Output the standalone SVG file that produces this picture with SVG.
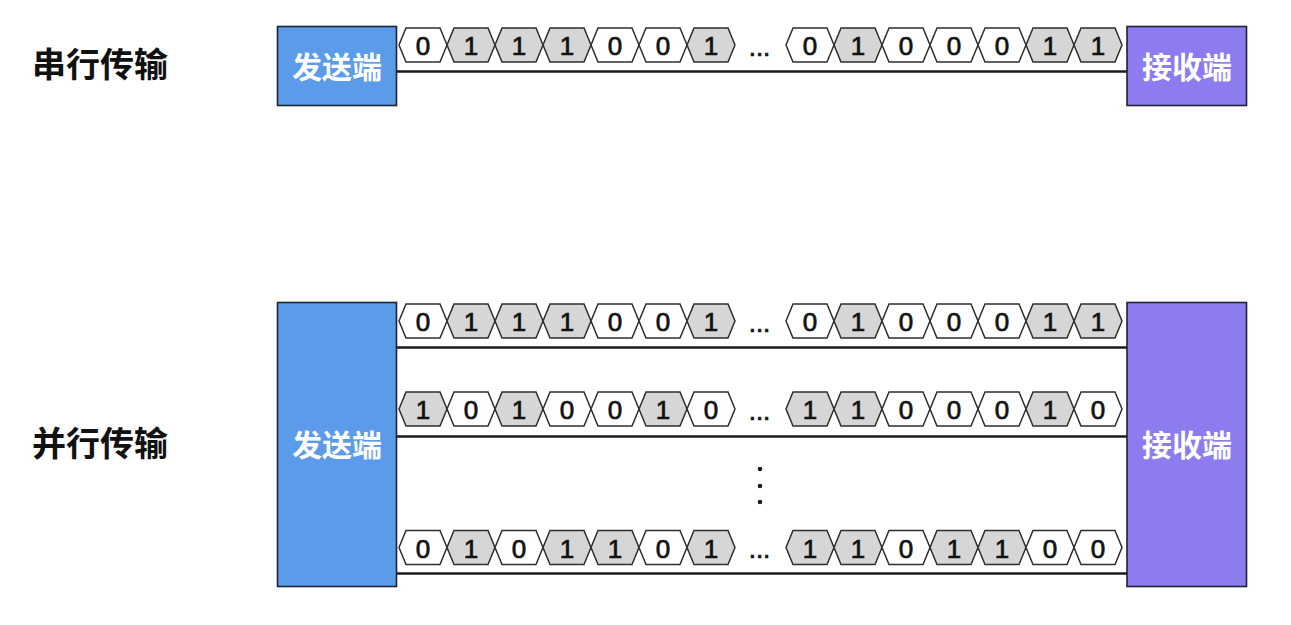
<svg xmlns="http://www.w3.org/2000/svg" xmlns:xlink="http://www.w3.org/1999/xlink" width="1291" height="625" viewBox="0 0 1291 625">
<style>
.lbl{font-family:"Noto Sans CJK SC","Noto Sans",sans-serif;font-weight:700;font-size:34px;fill:#111}
.bt{font-family:"Noto Sans CJK SC","Noto Sans",sans-serif;font-weight:700;font-size:30px;fill:#fff;text-anchor:middle}
.snd{fill:#5B9BE9;stroke:#1c2333;stroke-width:1.6}
.rcv{fill:#8C7CF0;stroke:#1c2333;stroke-width:1.6}
.wire{stroke:#1a1a1a;stroke-width:2.6;fill:none}
.d{font-family:"Liberation Sans",Arial,sans-serif;font-size:26px;fill:#111;stroke:#111;stroke-width:0.7;text-anchor:middle}
.h0{fill:#ffffff;stroke:#2e2e2e;stroke-width:1.5;stroke-linejoin:miter}
.h1{fill:#d6d6d6;stroke:#2e2e2e;stroke-width:1.5;stroke-linejoin:miter}
</style>
<defs>
<polygon id="b0" class="h0" points="-24,0 -17,-17 17,-17 24,0 17,17 -17,17"/>
<polygon id="b1" class="h1" points="-24,0 -17,-17 17,-17 24,0 17,17 -17,17"/>
</defs>
<rect width="1291" height="625" fill="#ffffff"/>

<g id="label-serial"><text class="lbl" x="32" y="77">串行传输</text></g>
<g id="label-parallel"><text class="lbl" x="32" y="456">并行传输</text></g>

<g id="connectors">
<line class="wire" x1="397" y1="71.5" x2="1127" y2="71.5"/>
<line class="wire" x1="397" y1="347.5" x2="1127" y2="347.5"/>
<line class="wire" x1="397" y1="436.5" x2="1127" y2="436.5"/>
<line class="wire" x1="397" y1="573.5" x2="1127" y2="573.5"/>
</g>

<g id="sender-serial"><rect class="snd" x="277.5" y="26.5" width="119" height="79"/><text class="bt" x="337" y="77.5">发送端</text></g>
<g id="receiver-serial"><rect class="rcv" x="1127" y="26.5" width="119.5" height="79"/><text class="bt" x="1187" y="77.5">接收端</text></g>
<g id="sender-parallel"><rect class="snd" x="277.5" y="302.5" width="119" height="284"/><text class="bt" x="337" y="455.5">发送端</text></g>
<g id="receiver-parallel"><rect class="rcv" x="1127" y="302.5" width="119.5" height="284"/><text class="bt" x="1187" y="455.5">接收端</text></g>

<g id="bits-serial">
<use href="#b0" x="423" y="45"/><use href="#b1" x="471" y="45"/><use href="#b1" x="519" y="45"/><use href="#b1" x="567" y="45"/><use href="#b0" x="615" y="45"/><use href="#b0" x="663" y="45"/><use href="#b1" x="711" y="45"/>
<use href="#b0" x="810" y="45"/><use href="#b1" x="858" y="45"/><use href="#b0" x="906" y="45"/><use href="#b0" x="954" y="45"/><use href="#b0" x="1002" y="45"/><use href="#b1" x="1050" y="45"/><use href="#b1" x="1098" y="45"/>
<text class="d" x="423" y="55">0</text><text class="d" x="471" y="55">1</text><text class="d" x="519" y="55">1</text><text class="d" x="567" y="55">1</text><text class="d" x="615" y="55">0</text><text class="d" x="663" y="55">0</text><text class="d" x="711" y="55">1</text>
<text class="d" x="759.5" y="55.5">...</text>
<text class="d" x="810" y="55">0</text><text class="d" x="858" y="55">1</text><text class="d" x="906" y="55">0</text><text class="d" x="954" y="55">0</text><text class="d" x="1002" y="55">0</text><text class="d" x="1050" y="55">1</text><text class="d" x="1098" y="55">1</text>
</g>

<g id="bits-parallel-1">
<use href="#b0" x="423" y="321"/><use href="#b1" x="471" y="321"/><use href="#b1" x="519" y="321"/><use href="#b1" x="567" y="321"/><use href="#b0" x="615" y="321"/><use href="#b0" x="663" y="321"/><use href="#b1" x="711" y="321"/>
<use href="#b0" x="810" y="321"/><use href="#b1" x="858" y="321"/><use href="#b0" x="906" y="321"/><use href="#b0" x="954" y="321"/><use href="#b0" x="1002" y="321"/><use href="#b1" x="1050" y="321"/><use href="#b1" x="1098" y="321"/>
<text class="d" x="423" y="331">0</text><text class="d" x="471" y="331">1</text><text class="d" x="519" y="331">1</text><text class="d" x="567" y="331">1</text><text class="d" x="615" y="331">0</text><text class="d" x="663" y="331">0</text><text class="d" x="711" y="331">1</text>
<text class="d" x="759.5" y="331.5">...</text>
<text class="d" x="810" y="331">0</text><text class="d" x="858" y="331">1</text><text class="d" x="906" y="331">0</text><text class="d" x="954" y="331">0</text><text class="d" x="1002" y="331">0</text><text class="d" x="1050" y="331">1</text><text class="d" x="1098" y="331">1</text>
</g>

<g id="bits-parallel-2">
<use href="#b1" x="423" y="409"/><use href="#b0" x="471" y="409"/><use href="#b1" x="519" y="409"/><use href="#b0" x="567" y="409"/><use href="#b0" x="615" y="409"/><use href="#b1" x="663" y="409"/><use href="#b0" x="711" y="409"/>
<use href="#b1" x="810" y="409"/><use href="#b1" x="858" y="409"/><use href="#b0" x="906" y="409"/><use href="#b0" x="954" y="409"/><use href="#b0" x="1002" y="409"/><use href="#b1" x="1050" y="409"/><use href="#b0" x="1098" y="409"/>
<text class="d" x="423" y="419">1</text><text class="d" x="471" y="419">0</text><text class="d" x="519" y="419">1</text><text class="d" x="567" y="419">0</text><text class="d" x="615" y="419">0</text><text class="d" x="663" y="419">1</text><text class="d" x="711" y="419">0</text>
<text class="d" x="759.5" y="419.5">...</text>
<text class="d" x="810" y="419">1</text><text class="d" x="858" y="419">1</text><text class="d" x="906" y="419">0</text><text class="d" x="954" y="419">0</text><text class="d" x="1002" y="419">0</text><text class="d" x="1050" y="419">1</text><text class="d" x="1098" y="419">0</text>
</g>

<g id="vdots" fill="#1a1a1a">
<circle cx="760" cy="469" r="2.3"/><circle cx="760" cy="486" r="2.3"/><circle cx="760" cy="502" r="2.3"/>
</g>

<g id="bits-parallel-3">
<use href="#b0" x="423" y="547.5"/><use href="#b1" x="471" y="547.5"/><use href="#b0" x="519" y="547.5"/><use href="#b1" x="567" y="547.5"/><use href="#b1" x="615" y="547.5"/><use href="#b0" x="663" y="547.5"/><use href="#b1" x="711" y="547.5"/>
<use href="#b1" x="810" y="547.5"/><use href="#b1" x="858" y="547.5"/><use href="#b0" x="906" y="547.5"/><use href="#b1" x="954" y="547.5"/><use href="#b1" x="1002" y="547.5"/><use href="#b0" x="1050" y="547.5"/><use href="#b0" x="1098" y="547.5"/>
<text class="d" x="423" y="557.5">0</text><text class="d" x="471" y="557.5">1</text><text class="d" x="519" y="557.5">0</text><text class="d" x="567" y="557.5">1</text><text class="d" x="615" y="557.5">1</text><text class="d" x="663" y="557.5">0</text><text class="d" x="711" y="557.5">1</text>
<text class="d" x="759.5" y="558">...</text>
<text class="d" x="810" y="557.5">1</text><text class="d" x="858" y="557.5">1</text><text class="d" x="906" y="557.5">0</text><text class="d" x="954" y="557.5">1</text><text class="d" x="1002" y="557.5">1</text><text class="d" x="1050" y="557.5">0</text><text class="d" x="1098" y="557.5">0</text>
</g>
</svg>
